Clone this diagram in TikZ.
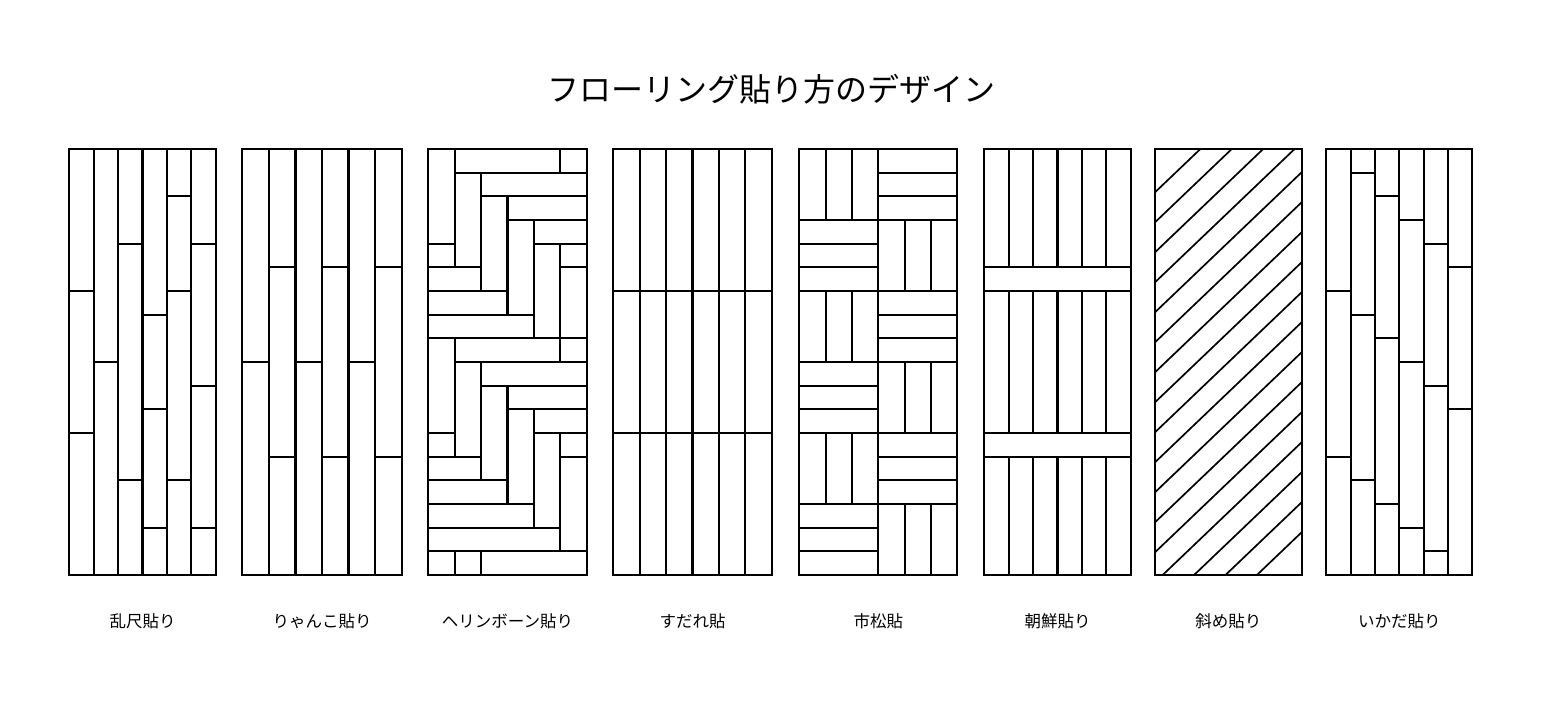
\documentclass[tikz,border=0pt]{standalone}
\usepackage{fontspec}
\newfontfamily\jpfont{Noto Sans CJK JP}
\begin{document}
\begin{tikzpicture}[x=1pt,y=-1pt]
	\tikzstyle{board} = [line width=2.2pt]
	\tikzstyle{slant} = [line width=1.7pt]
	\tikzstyle{caption} = [font=\jpfont\fontsize{16.5}{18}\selectfont]
	\useasboundingbox (0,0) rectangle (1568,724);
	\fill[white] (0,0) rectangle (1568,724);
	\node[font=\jpfont\fontsize{32}{36}\selectfont](title)at(771,89){フローリング貼り方のデザイン};
	% 乱尺貼り
	\begin{scope}[shift={(69.3pt,-149pt)},x=24.4pt,y=-23.667pt]
	\foreach \c in {1,...,5} \draw[board] (\c,0) -- (\c,18);
	\foreach \c/\r in {0/6,0/12,1/9,2/4,2/14,3/7,3/11,3/16,4/2,4/6,4/14,5/4,5/10,5/16}
		\draw[board] (\c,\r) -- (\c+1,\r);
	\draw[board] (0,0) rectangle (6,18);
	\end{scope}
	% りゃんこ貼り
	\begin{scope}[shift={(242.3pt,-149pt)},x=26.57pt,y=-23.667pt]
	\foreach \c in {1,...,5} \draw[board] (\c,0) -- (\c,18);
	\foreach \c/\r in {0/9,1/5,1/13,2/9,3/5,3/13,4/9,5/5,5/13}
		\draw[board] (\c,\r) -- (\c+1,\r);
	\draw[board] (0,0) rectangle (6,18);
	\end{scope}
	% ヘリンボーン貼り
	\begin{scope}[shift={(428.3pt,-149pt)},x=26.4pt,y=-23.667pt]
	\foreach \k in {0,8}
		\foreach \a/\b/\c/\d in {0/0/1/4,1/0/5/1,5/0/6/1,1/1/2/5,2/1/6/2,2/2/3/6,3/2/6/3,3/3/4/7,
			4/3/6/4,4/4/5/8,5/4/6/5,0/4/1/5,5/5/6/9,0/5/2/6,0/6/3/7,0/7/4/8}
			\draw[board] (\a,\b+\k) rectangle (\c,\d+\k);
	\foreach \a/\b/\c/\d in {0/16/5/17,0/17/1/18,1/17/2/18,2/17/6/18}
		\draw[board] (\a,\b) rectangle (\c,\d);
	\draw[board] (0,0) rectangle (6,18);
	\end{scope}
	% すだれ貼
	\begin{scope}[shift={(613.3pt,-149pt)},x=26.4pt,y=-23.667pt]
	\foreach \c in {1,...,5} \draw[board] (\c,0) -- (\c,18);
	\foreach \r in {6,12} \draw[board] (0,\r) -- (6,\r);
	\draw[board] (0,0) rectangle (6,18);
	\end{scope}
	% 市松貼
	\begin{scope}[shift={(799.3pt,-149pt)},x=26.33pt,y=-23.667pt]
	\foreach \bx/\by in {0/0,3/3,0/6,3/9,0/12,3/15}
		\draw[board] (\bx+1,\by) -- (\bx+1,\by+3) (\bx+2,\by) -- (\bx+2,\by+3);
	\foreach \bx/\by in {3/0,0/3,3/6,0/9,3/12,0/15}
		\draw[board] (\bx,\by+1) -- (\bx+3,\by+1) (\bx,\by+2) -- (\bx+3,\by+2);
	\foreach \r in {3,6,...,15} \draw[board] (0,\r) -- (6,\r);
	\draw[board] (3,0) -- (3,18);
	\draw[board] (0,0) rectangle (6,18);
	\end{scope}
	% 朝鮮貼り
	\begin{scope}[shift={(984.3pt,-149pt)},x=24.4pt,y=-23.667pt]
	\foreach \c in {1,...,5} \draw[board] (\c,0) -- (\c,5) (\c,6) -- (\c,12) (\c,13) -- (\c,18);
	\foreach \r in {5,6,12,13} \draw[board] (0,\r) -- (6,\r);
	\draw[board] (0,0) rectangle (6,18);
	\end{scope}
	% 斜め貼り
	\begin{scope}[shift={(1155pt,-149pt)}]
	\begin{scope}
	\clip (0,0) rectangle (146.7,426);
	\foreach \k in {0,...,16} \draw[slant] (0,43.3+30*\k) -- (146.7,-96.8+30*\k);
	\end{scope}
	\draw[board] (0,0) rectangle (146.7,426);
	\end{scope}
	% いかだ貼り
	\begin{scope}[shift={(1326.3pt,-149pt)},x=24.33pt,y=-23.667pt]
	\foreach \c in {1,...,5} \draw[board] (\c,0) -- (\c,18);
	\foreach \c/\r in {0/6,0/13,1/1,1/7,1/14,2/2,2/8,2/15,3/3,3/9,3/16,4/4,4/10,4/17,5/5,5/11}
		\draw[board] (\c,\r) -- (\c+1,\r);
	\draw[board] (0,0) rectangle (6,18);
	\end{scope}
	% captions
	\node[caption](ranjaku)at(142.5,621){乱尺貼り};
	\node[caption](ryanko)at(322,621){りゃんこ貼り};
	\node[caption](herring)at(507.5,621){ヘリンボーン貼り};
	\node[caption](sudare)at(692.5,621){すだれ貼};
	\node[caption](ichimatsu)at(878.3,621){市松貼};
	\node[caption](chosen)at(1057.5,621){朝鮮貼り};
	\node[caption](naname)at(1228.3,621){斜め貼り};
	\node[caption](ikada)at(1399.3,621){いかだ貼り};
\end{tikzpicture}
\end{document}
